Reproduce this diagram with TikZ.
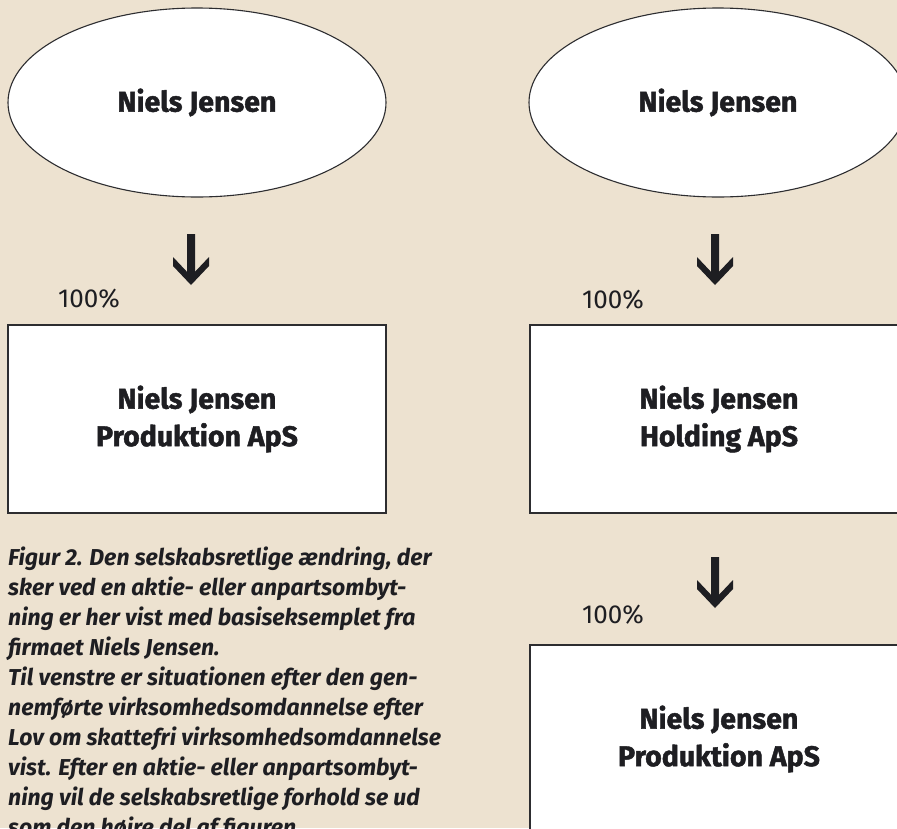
\documentclass[tikz,border=0pt]{standalone}
\usepackage{fontspec}
\setmainfont{Fira Sans}
\newfontfamily\headfont{Fira Sans}[BoldFeatures={FakeBold=1.6}]
\usetikzlibrary{shapes.geometric}
\definecolor{bg}{RGB}{237,226,208}
\definecolor{ink}{RGB}{30,30,34}
\definecolor{edge}{RGB}{45,45,48}
\tikzset{
  owner/.style={ellipse, draw=edge, line width=1.1pt, fill=white, inner sep=0pt,
    minimum width=378pt, minimum height=189pt, text=ink,
    font=\headfont\bfseries\fontsize{28.5}{37.5}\selectfont},
  company/.style={rectangle, draw=edge, line width=1.2pt, fill=white, inner sep=0pt,
    minimum width=378pt, minimum height=188pt, align=center, text=ink,
    font=\headfont\bfseries\fontsize{28.5}{37.5}\selectfont},
  pct/.style={anchor=base west, inner sep=0pt, text=ink,
    font=\fontsize{26}{30}\selectfont},
  captext/.style={anchor=north west, inner sep=0pt, align=left, text=ink,
    font=\bfseries\itshape\fontsize{23}{30}\selectfont},
  arrowfill/.style={fill=ink}
}
\newcommand\ownarrow[2]{%
  \fill[arrowfill] (#1) ++(-4,0) -- ++(8,0) -- ++(0,37.8) -- ++(14,-14.8)
    -- ++(0,9) -- (#2) -- ++(-18,-19) -- ++(0,-9) -- ++(14,14.8) -- cycle;}
\begin{document}
\begin{tikzpicture}[x=1pt,y=-1pt]
\useasboundingbox (0,0) rectangle (897,828);
\fill[bg] (0,0) rectangle (897,828);
\clip (0,0) rectangle (897,828);

% left side
\node[owner] (nj1) at (197,102.5) {Niels Jensen};
\node[company] (prod1) at (197,419) {Niels Jensen\\Produktion ApS};
\coordinate (a1top) at (191,234);
\coordinate (a1tip) at (191,285);
\ownarrow{a1top}{a1tip}
\node[pct] (p1) at (58,307) {100\%};

% right side
\node[owner] (nj2) at (718,102.5) {Niels Jensen};
\node[company] (hold) at (719,419) {Niels Jensen\\Holding ApS};
\node[company] (prod2) at (719,739) {Niels Jensen\\Produktion ApS};
\coordinate (a2top) at (715,234);
\coordinate (a2tip) at (715,285);
\ownarrow{a2top}{a2tip}
\node[pct] (p2) at (582,308) {100\%};
\coordinate (a3top) at (715,557);
\coordinate (a3tip) at (715,608);
\ownarrow{a3top}{a3tip}
\node[pct] (p3) at (582,623) {100\%};

% caption
\node[captext] (cap) at (8,546.5) {Figur 2. Den selskabsretlige ændring, der\\
sker ved en aktie- eller anpartsombyt-\\
ning er her vist med basiseksemplet fra\\
firmaet Niels Jensen.\\
Til venstre er situationen efter den gen-\\
nemførte virksomhedsomdannelse efter\\
Lov om skattefri virksomhedsomdannelse\\
vist. Efter en aktie- eller anpartsombyt-\\
ning vil de selskabsretlige forhold se ud\\
som den højre del af figuren.};
\end{tikzpicture}
\end{document}
